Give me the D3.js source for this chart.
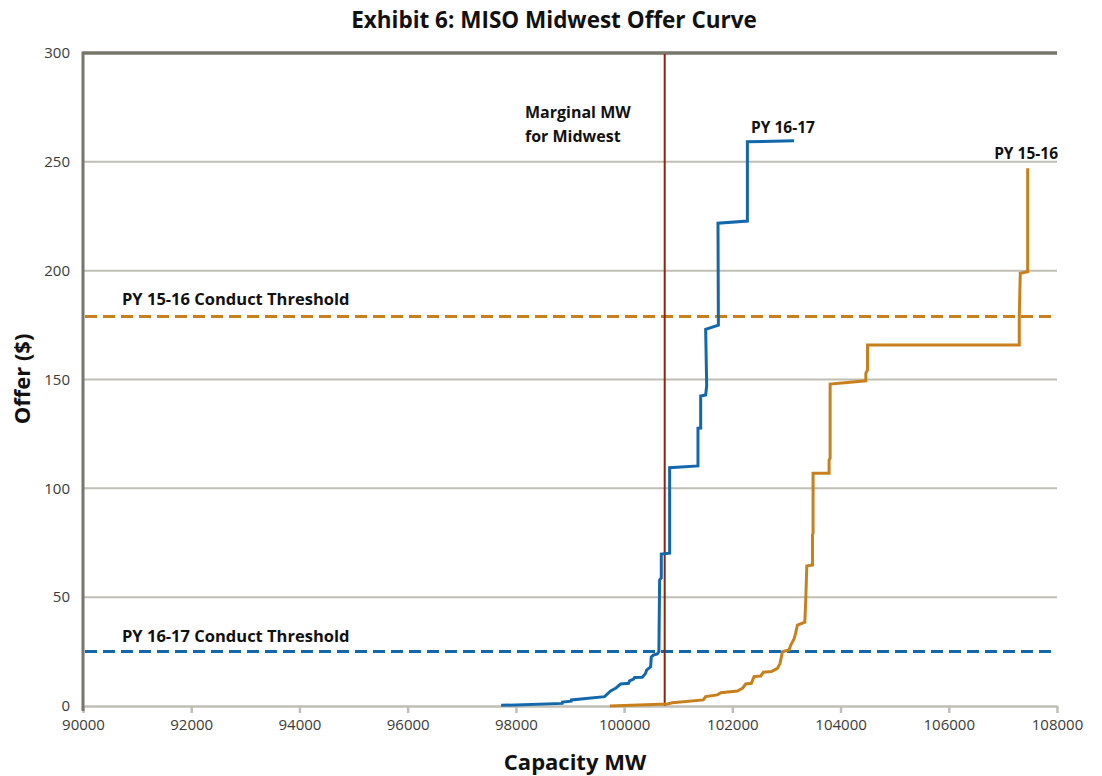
<!DOCTYPE html>
<html><head><meta charset="utf-8">
<script src="https://cdn.jsdelivr.net/npm/d3@7"></script>
<style>
body{margin:0;background:#fff;}
svg{display:block;font-family:"Open Sans","Noto Sans",sans-serif;}
</style></head>
<body><svg id="c" width="1102" height="776"></svg>
<script>
// ---- data ----
const xTicks = [90000,92000,94000,96000,98000,100000,102000,104000,106000,108000];
const yTicks = [0,50,100,150,200,250,300];
// PY 16-17 offer curve: [capacity MW, offer $]
const py1617 = [
 [97727,0.3],[98856,1.2],[98862,1.8],[99022,2.2],[99028,2.8],[99639,4.3],[99750,6.9],
 [99842,8.1],[99935,10.1],[100083,10.4],[100100,11.6],[100175,12.4],[100194,13.1],
 [100336,13.2],[100397,15],[100416,16.5],[100490,18],[100502,22.5],[100540,23.4],
 [100613,23.9],[100643,25],[100656,57.9],[100687,58.8],[100687,69.8],[100841,70.2],
 [100841,109.5],[101365,110.3],[101365,127.6],[101415,127.7],[101415,142.4],
 [101507,142.9],[101526,147],[101507,173.1],[101742,175],[101735,221.8],
 [102278,222.8],[102278,259.2],[103141,259.7]
];
// PY 15-16 offer curve
const py1516 = [
 [99737,0],[100798,0.9],[100891,1.5],[101464,2.8],[101507,4.3],[101723,5.1],
 [101785,6.1],[102093,6.9],[102186,8.1],[102247,10.1],[102352,10.4],[102401,13.5],
 [102525,13.8],[102574,15.5],[102722,15.8],[102833,17.3],[102882,19.6],[102913,23.4],
 [102926,24.9],[103048,25.7],[103080,28],[103141,30.8],[103172,33.7],[103203,37.2],
 [103339,38.5],[103357,48.7],[103376,64.3],[103481,64.8],[103481,78.6],[103492,79.5],
 [103492,106.9],[103788,106.9],[103788,113],[103807,113.8],[103807,147.9],
 [104467,149.4],[104467,152.8],[104498,154.4],[104498,165.8],[107303,165.8],
 [107303,178.8],[107321,198.8],[107458,199.5],[107458,247]
];
const thresh1516 = 179;
const thresh1617 = 25;
const marginalMW = 100750;

// ---- layout ----
const svg = d3.select("#c");
const L=83, R=1057, T=53, B=706;
const x = d3.scaleLinear().domain([90000,108000]).range([L,R]);
const y = d3.scaleLinear().domain([0,300]).range([B,T]);

const blue="#1368ac", orange="#c8801c", red="#8e2410", grid="#bfbfb6", axisC="#76766a";

// gridlines
svg.append("g").selectAll("line").data(yTicks.filter(d=>d>0 && d<300)).join("line")
 .attr("x1",L).attr("x2",R).attr("y1",d=>y(d)).attr("y2",d=>y(d))
 .attr("stroke",grid).attr("stroke-width",2);

// x axis
const xa = svg.append("g").attr("transform",`translate(0,${B})`)
 .call(d3.axisBottom(x).tickValues(xTicks).tickFormat(d3.format("d")).tickSize(7).tickSizeOuter(0));
xa.select(".domain").attr("stroke",grid).attr("stroke-width",2.5);
xa.selectAll(".tick line").attr("stroke",grid).attr("stroke-width",2.5);
xa.selectAll(".tick text").attr("font-size",15).attr("fill","#3a3a3a").attr("dy","0.95em")
 .attr("font-family","'Open Sans',sans-serif");

// y axis
const ya = svg.append("g").attr("transform",`translate(${L},0)`)
 .call(d3.axisLeft(y).tickValues(yTicks).tickSize(0).tickPadding(13));
ya.select(".domain").remove();
ya.selectAll(".tick text").attr("font-size",15).attr("fill","#3a3a3a")
 .attr("font-family","'Open Sans',sans-serif");

// frame: top and left
svg.append("line").attr("x1",L).attr("x2",R).attr("y1",T).attr("y2",T)
 .attr("stroke",axisC).attr("stroke-width",3.5);
svg.append("line").attr("x1",L).attr("x2",L).attr("y1",T-1.5).attr("y2",B+5)
 .attr("stroke",axisC).attr("stroke-width",3);

// thresholds
svg.append("line").attr("x1",L+2).attr("x2",R).attr("y1",y(thresh1516)).attr("y2",y(thresh1516))
 .attr("stroke",orange).attr("stroke-width",3).attr("stroke-dasharray","12,6");
svg.append("line").attr("x1",L+2).attr("x2",R).attr("y1",y(thresh1617)).attr("y2",y(thresh1617))
 .attr("stroke",blue).attr("stroke-width",3).attr("stroke-dasharray","12,6");

// marginal line
svg.append("line").attr("x1",x(marginalMW)).attr("x2",x(marginalMW)).attr("y1",T+1).attr("y2",B)
 .attr("stroke",red).attr("stroke-width",2);

// curves
const line = d3.line().x(d=>x(d[0])).y(d=>y(d[1]));
svg.append("path").attr("d",line(py1516)).attr("fill","none").attr("stroke",orange).attr("stroke-width",3);
svg.append("path").attr("d",line(py1617)).attr("fill","none").attr("stroke",blue).attr("stroke-width",3);

// texts
const txt=(s,xx,yy,size,anchor)=>svg.append("text").text(s).attr("x",xx).attr("y",yy)
 .attr("font-size",size).attr("font-weight","bold").attr("fill","#111").attr("text-anchor",anchor||"start");
txt("Exhibit 6: MISO Midwest Offer Curve",554,28,22.5,"middle");
txt("Marginal MW",525,118,16);
txt("for Midwest",525,142,16);
txt("PY 16-17",751,133,15.5);
txt("PY 15-16",1058,159,15.5,"end");
txt("PY 15-16 Conduct Threshold",122,305,16.5);
txt("PY 16-17 Conduct Threshold",122,642,16.5);
txt("Capacity MW",575,770,22,"middle");
svg.append("text").text("Offer ($)").attr("transform","translate(30,379) rotate(-90)")
 .attr("font-size",22).attr("font-weight","bold").attr("fill","#111").attr("text-anchor","middle");
</script></body></html>
